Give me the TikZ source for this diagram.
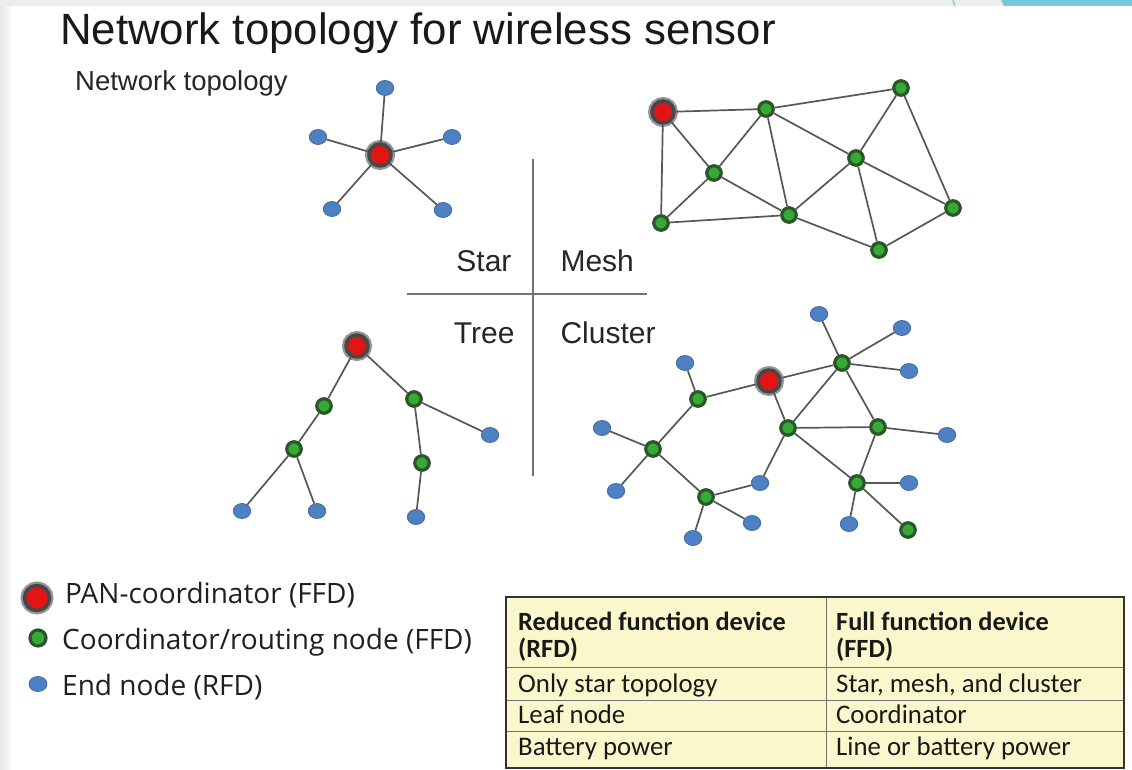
\documentclass[tikz,border=0pt]{standalone}
\usepackage{fontspec}
\usetikzlibrary{shapes.geometric}
\setmainfont{Liberation Sans}
\newfontfamily\legendfont{Open Sans}
\newfontfamily\cellfont{Carlito}
\definecolor{panred}{RGB}{226,20,20}
\definecolor{routegreen}{RGB}{54,170,54}
\definecolor{routering}{RGB}{42,86,42}
\definecolor{endblue}{RGB}{78,128,196}
\definecolor{endline}{RGB}{60,98,150}
\definecolor{tabyellow}{RGB}{251,247,204}
\definecolor{tabblue}{RGB}{118,198,224}

\begin{document}
\begin{tikzpicture}[x=1pt,y=-1pt]
  \tikzset{
    pan node/.style={circle,inner sep=0pt,minimum size=#1,fill=panred,draw=black!72,line width=3.5pt,
      preaction={draw=black!42,line width=8pt}},
    pan node/.default=22pt,
    route node/.style={circle,inner sep=0pt,minimum size=#1,fill=routegreen,draw=routering,line width=3.2pt},
    route node/.default=14.5pt,
    end node/.style={ellipse,inner sep=0pt,minimum width=#1,minimum height=15pt,fill=endblue,draw=endline,line width=0.7pt},
    end node/.default=17.5pt,
    link/.style={draw=black!66,line width=1.7pt},
    quad label/.style={font=\fontsize{30}{30}\selectfont,text=black!85},
    legend text/.style={anchor=base west,inner sep=0pt,font=\legendfont\fontsize{28}{28}\selectfont,text=black!88},
    cell/.style={anchor=base west,inner sep=0pt,font=\cellfont\fontsize{26.8}{27}\selectfont,text=black!90},
    head cell/.style={cell,font=\cellfont\bfseries\fontsize{26.3}{27}\selectfont}
  }
  \useasboundingbox (0,0) rectangle (1132,770);
  \fill[white] (0,0) rectangle (1132,770);

  % slide chrome
  \shade[left color=black!9,right color=white] (0,6) rectangle (13,770);
  \fill[black!7] (0,0) rectangle (1132,6);
  \draw[tabblue,line width=1.2pt] (953,0) -- (955,6);
  \fill[tabblue] (1001,0) -- (1132,0) -- (1132,6) -- (1004,6) -- cycle;

  % headings
  \node[anchor=base west,inner sep=0pt,font=\fontsize{43.8}{44}\selectfont,text=black!90] (title) at (60,45) {Network topology for wireless sensor};
  \node[anchor=base west,inner sep=0pt,font=\fontsize{27.5}{28}\selectfont,text=black!85] (subtitle) at (75,91) {Network topology};

  % cross between the four layouts
  \coordinate (vtop) at (533,159); \coordinate (vbot) at (533,476);
  \coordinate (hleft) at (407,294); \coordinate (hright) at (647,294);
  \draw[black!55,line width=2.5pt] (vtop) -- (vbot);
  \draw[black!55,line width=2.5pt] (hleft) -- (hright);
  \node[quad label,anchor=base east] (star) at (515,271) {Star};
  \node[quad label,anchor=base west] (mesh) at (557,271) {Mesh};
  \node[quad label,anchor=base east] (tree) at (518,343) {Tree};
  \node[quad label,anchor=base west] (cluster) at (557,343) {Cluster};

  % star
  \node[pan node] (s0) at (380,155) {};
  \node[end node] (s1) at (385,88) {};
  \node[end node] (s2) at (318,137) {};
  \node[end node] (s3) at (452,137) {};
  \node[end node] (s4) at (332,209) {};
  \node[end node] (s5) at (443,210) {};
  \foreach \b in {s1,s2,s3,s4,s5}
    \draw[link] (s0) -- (\b);

  % mesh
  \node[pan node] (m0) at (663,112) {};
  \node[route node] (ma) at (766,109) {};
  \node[route node] (mb) at (901,88) {};
  \node[route node] (mc) at (714,173) {};
  \node[route node] (md) at (856,158) {};
  \node[route node] (me) at (661,223) {};
  \node[route node] (mf) at (789,215) {};
  \node[route node] (mg) at (953,208) {};
  \node[route node] (mh) at (879,250) {};
  \foreach \a/\b in {m0/ma,m0/mc,m0/me,ma/mb,ma/mc,ma/mf,ma/md,mc/me,mc/mf,me/mf,
                     md/mb,md/mf,md/mh,md/mg,mb/mg,mf/mh,mh/mg}
    \draw[link] (\a) -- (\b);

  % tree
  \node[pan node] (t0) at (357,346) {};
  \node[route node] (t1) at (324,406) {};
  \node[route node] (t2) at (294,449) {};
  \node[route node] (t3) at (414,399) {};
  \node[route node] (t4) at (422,463) {};
  \node[end node] (t5) at (242,511) {};
  \node[end node] (t6) at (317,511) {};
  \node[end node] (t7) at (490,435) {};
  \node[end node] (t8) at (416,517) {};
  \foreach \a/\b in {t0/t1,t1/t2,t2/t5,t2/t6,t0/t3,t3/t4,t4/t8,t3/t7}
    \draw[link] (\a) -- (\b);

  % cluster
  \node[pan node] (c0) at (769,381) {};
  \node[route node] (c1) at (842,363) {};
  \node[route node] (c2) at (788,428) {};
  \node[route node] (c3) at (878,427) {};
  \node[route node] (c4) at (857,483) {};
  \node[route node] (c5) at (698,399) {};
  \node[route node] (c6) at (653,449) {};
  \node[route node] (c7) at (706,497) {};
  \node[route node] (c8) at (908,530) {};
  \node[end node] (e1) at (819,314) {};
  \node[end node] (e2) at (902,328) {};
  \node[end node] (e3) at (909,371) {};
  \node[end node] (e4) at (947,435) {};
  \node[end node] (e5) at (909,483) {};
  \node[end node] (e6) at (849,524) {};
  \node[end node] (e7) at (760,483) {};
  \node[end node] (e8) at (752,523) {};
  \node[end node] (e9) at (693,538) {};
  \node[end node] (e10) at (616,491) {};
  \node[end node] (e11) at (602,428) {};
  \node[end node] (e12) at (685,363) {};
  \foreach \a/\b in {c0/c1,c0/c2,c0/c5,c1/e1,c1/e2,c1/e3,c1/c2,c1/c3,c2/c3,c2/c4,c2/e7,
                     c3/e4,c3/c4,c4/e5,c4/e6,c4/c8,c5/e12,c5/c6,c6/e11,c6/e10,c6/c7,
                     c7/e7,c7/e8,c7/e9}
    \draw[link] (\a) -- (\b);

  % legend
  \node[pan node=25pt] (kpan) at (37,598) {};
  \node[route node=16pt] (kroute) at (38,638) {};
  \node[end node=18pt] (kend) at (38,684) {};
  \node[legend text] (kpantext) at (65,603) {PAN-coordinator (FFD)};
  \node[legend text] (kroutetext) at (62,649) {Coordinator/routing node (FFD)};
  \node[legend text] (kendtext) at (62,695) {End node (RFD)};

  % RFD / FFD table
  \fill[tabyellow] (506,597) rectangle (1124,768);
  \foreach \y in {667,700,731}
    \draw[black!55,line width=1pt] (506,\y) -- (1124,\y);
  \draw[black!55,line width=1pt] (826,597) -- (826,768);
  \draw[black!80,line width=2.5pt] (506,597) rectangle (1124,768);
  \node[head cell] (rfdhead) at (518,630) {Reduced function device};
  \node[head cell] (rfdabbr) at (518,657) {(RFD)};
  \node[head cell] (ffdhead) at (836,630) {Full function device};
  \node[head cell] (ffdabbr) at (836,657) {(FFD)};
  \node[cell] (rfdone) at (518,692) {Only star topology};
  \node[cell] (rfdtwo) at (518,723) {Leaf node};
  \node[cell] (rfdthree) at (518,755) {Battery power};
  \node[cell] (ffdone) at (836,692) {Star, mesh, and cluster};
  \node[cell] (ffdtwo) at (836,723) {Coordinator};
  \node[cell] (ffdthree) at (836,755) {Line or battery power};
\end{tikzpicture}
\end{document}
